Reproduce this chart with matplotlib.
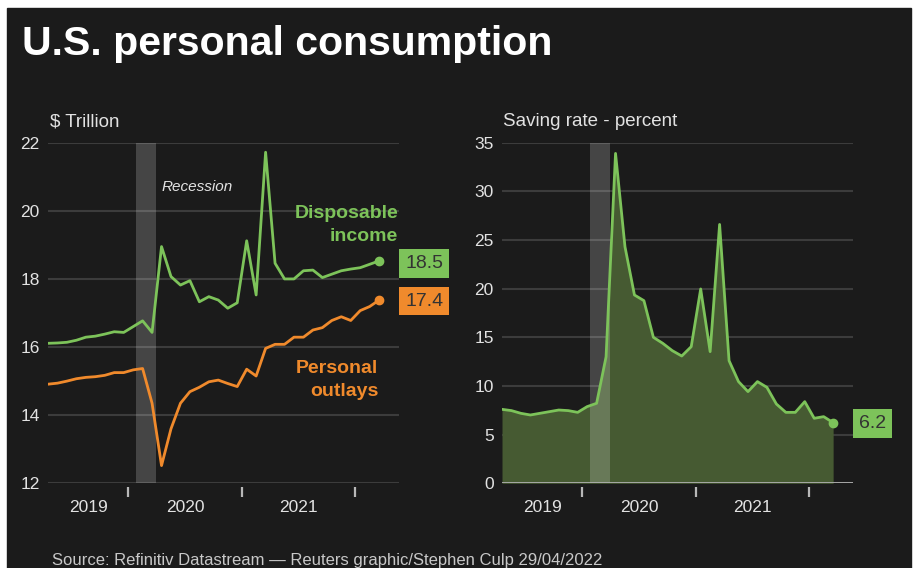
import numpy as np
import matplotlib
matplotlib.use('Agg')
import matplotlib.pyplot as plt
from matplotlib.patches import Rectangle

plt.rcParams['font.family'] = ['Liberation Sans', 'DejaVu Sans']

# monthly data, Apr 2019 .. Mar 2022
months = np.arange(36)
disp_income = [16.11, 16.12, 16.14, 16.20, 16.29, 16.32, 16.38, 16.45, 16.43,
               16.60, 16.77, 16.43, 18.95, 18.07, 17.82, 17.95, 17.33, 17.48,
               17.38, 17.14, 17.30, 19.12, 17.53, 21.72, 18.46, 18.00, 18.00,
               18.24, 18.26, 18.04, 18.14, 18.24, 18.29, 18.33, 18.43, 18.53]
outlays = [14.91, 14.94, 15.00, 15.07, 15.11, 15.13, 15.17, 15.25, 15.25,
           15.33, 15.37, 14.35, 12.52, 13.60, 14.35, 14.69, 14.82, 14.98,
           15.03, 14.93, 14.84, 15.35, 15.15, 15.96, 16.08, 16.08, 16.29,
           16.29, 16.50, 16.57, 16.78, 16.89, 16.78, 17.07, 17.19, 17.38]
saving = [7.60, 7.47, 7.19, 7.02, 7.19, 7.36, 7.53, 7.47, 7.29,
          7.88, 8.22, 13.0, 33.9, 24.3, 19.35, 18.77, 15.0, 14.38,
          13.63, 13.08, 14.04, 19.97, 13.53, 26.6, 12.6, 10.45, 9.42,
          10.45, 9.86, 8.15, 7.29, 7.29, 8.39, 6.68, 6.85, 6.23]
year_labels = ['2019', '2020', '2021']
year_ticks = [8.5, 20.5, 32.5]
year_label_pos = [4.25, 14.5, 26.5]
recession = (9.35, 11.4)

BG = '#1b1b1b'
GREEN = '#7dc35a'
ORANGE = '#f08a2c'
FILL = '#465a32'
GRID = '#3c3c3c'
TXT = '#e2e2e2'

fig = plt.figure(figsize=(9.16, 5.68), dpi=100, facecolor='white')
fig.patches.append(Rectangle((7/916, 0), 904/916, 560/568,
                             transform=fig.transFigure, color=BG, zorder=-10))

ax1 = fig.add_axes([48/916, 1-483.3/568, 351/916, 340.6/568])
ax2 = fig.add_axes([502/916, 1-483.3/568, 351/916, 340.6/568])

for ax in (ax1, ax2):
    ax.set_facecolor('none')
    for s in ax.spines.values():
        s.set_visible(False)
    ax.spines['bottom'].set_position(('outward', 3))
    ax.set_xlim(0, 37.1)
    ax.set_xticks(year_ticks)
    ax.set_xticklabels([])
    ax.set_xticks(year_label_pos, minor=True)
    ax.set_xticklabels(year_labels, minor=True)
    ax.tick_params(axis='x', which='major', length=7, width=1.6,
                   color='#b8b8b8')
    ax.tick_params(axis='x', which='minor', length=0, pad=9,
                   labelsize=12.5, labelcolor=TXT)
    ax.tick_params(axis='y', length=0, pad=6, labelsize=12.5,
                   labelcolor=TXT)
    ax.grid(axis='y', color=GRID, linewidth=1.5, zorder=1)
    ax.set_axisbelow(True)
    ax.axvspan(recession[0], recession[1], color='white', alpha=0.19,
               linewidth=0, zorder=3)

# left panel
ax1.set_ylim(12, 22)
ax1.set_yticks([12, 14, 16, 18, 20, 22])
ax1.plot(months, disp_income, color=GREEN, linewidth=2, zorder=4)
ax1.plot(months, outlays, color=ORANGE, linewidth=2, zorder=4)
ax1.plot(months[-1], disp_income[-1], 'o', color=GREEN, markersize=6, zorder=5)
ax1.plot(months[-1], outlays[-1], 'o', color=ORANGE, markersize=6, zorder=5)
ax1.text(37.75, disp_income[-1] - 0.08, '%.1f' % disp_income[-1],
         fontsize=14, color='#333333', ha='left', va='center', clip_on=False,
         bbox=dict(boxstyle='square,pad=0.3', fc=GREEN, ec='none'))
ax1.text(37.75, outlays[-1] - 0.03, '%.1f' % outlays[-1],
         fontsize=14, color='#333333', ha='left', va='center', clip_on=False,
         bbox=dict(boxstyle='square,pad=0.3', fc=ORANGE, ec='none'))
ax1.text(37.0, 19.58, 'Disposable\nincome', fontsize=14, fontweight='bold',
         color=GREEN, ha='right', va='center', linespacing=1.45)
ax1.text(34.9, 15.03, 'Personal\noutlays', fontsize=14, fontweight='bold',
         color=ORANGE, ha='right', va='center', linespacing=1.45)
ax1.text(12.05, 20.7, 'Recession', fontsize=11, style='italic', color=TXT,
         ha='left', va='center')

# right panel
ax2.set_ylim(0, 35)
ax2.set_yticks(range(0, 36, 5))
ax2.fill_between(months, saving, 0, color=FILL, linewidth=0, zorder=2)
ax2.axhline(0, color='#b0b0b0', linewidth=2, zorder=4)
ax2.plot(months, saving, color=GREEN, linewidth=2, zorder=4)
ax2.plot(months[-1], saving[-1], 'o', color=GREEN, markersize=6, zorder=5)
ax2.text(37.75, saving[-1] - 0.1, '%.1f' % saving[-1],
         fontsize=14, color='#333333', ha='left', va='center', clip_on=False,
         bbox=dict(boxstyle='square,pad=0.3', fc=GREEN, ec='none'))

fig.text(22/916, 1-55/568, 'U.S. personal consumption', fontsize=29.5,
         fontweight='bold', color='white', ha='left', va='baseline')
fig.text(50/916, 1-122/568, '$ Trillion', fontsize=13.5, color=TXT,
         ha='left', va='center')
fig.text(503/916, 1-122/568, 'Saving rate - percent', fontsize=13.5,
         color=TXT, ha='left', va='center')
fig.text(52/916, 1-561/568,
         'Source: Refinitiv Datastream \u2014 Reuters graphic/Stephen Culp 29/04/2022',
         fontsize=12, color='#c8c8c8', ha='left', va='center')

fig.savefig('out.png', dpi=100, facecolor=fig.get_facecolor())
